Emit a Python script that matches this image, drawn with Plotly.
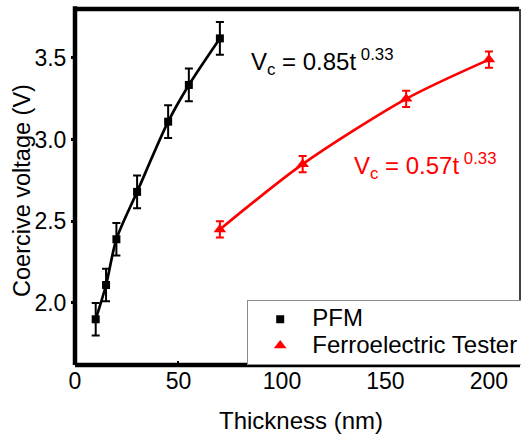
import plotly.graph_objects as go

# ---- data ----
pfm_thickness = [10, 15, 20, 30, 45, 55, 70]
pfm_vc = [1.90, 2.11, 2.39, 2.68, 3.11, 3.335, 3.62]
pfm_err = [0.10, 0.10, 0.10, 0.10, 0.10, 0.10, 0.10]

fet_thickness = [70, 110, 160, 200]
fet_vc = [2.45, 2.85, 3.25, 3.49]
fet_err = [0.05, 0.05, 0.05, 0.05]

x_ticks = [0, 50, 100, 150, 200]
y_ticks = [2.0, 2.5, 3.0, 3.5]

FONT = "Liberation Sans, Arial, sans-serif"
RED = "#ff0000"


def big(s):
    return "<span style='font-size:24px'>%s</span>" % s


fig = go.Figure()

# fitted curves (drawn as smooth lines through the data)
fig.add_trace(go.Scatter(x=pfm_thickness, y=pfm_vc, mode="lines",
                         line=dict(color="black", width=2.7, shape="spline", smoothing=0.8),
                         showlegend=False, hoverinfo="skip"))
fig.add_trace(go.Scatter(x=fet_thickness, y=fet_vc, mode="lines",
                         line=dict(color=RED, width=2.7, shape="spline", smoothing=0.8),
                         showlegend=False, hoverinfo="skip"))

# data points with error bars
fig.add_trace(go.Scatter(x=pfm_thickness, y=pfm_vc, mode="markers", name=big("PFM"),
                         marker=dict(symbol="square", size=8, color="black"),
                         error_y=dict(type="data", array=pfm_err, visible=True,
                                      color="black", thickness=2, width=4)))
fig.add_trace(go.Scatter(x=fet_thickness, y=fet_vc, mode="markers",
                         name=big("Ferroelectric Tester"),
                         marker=dict(symbol="triangle-up", size=11, color=RED),
                         error_y=dict(type="data", array=fet_err, visible=True,
                                      color=RED, thickness=2, width=4)))

# frame
frame = [
    dict(x0=0, x1=0, y0=0, y1=1.008, w=4.5),   # left
    dict(x0=0, x1=1, y0=0, y1=0, w=4.5),       # bottom
    dict(x0=0, x1=0.998, y0=1, y1=1, w=4.5),   # top
    dict(x0=1, x1=1, y0=0, y1=1, w=1.5),       # right
]
for f in frame:
    fig.add_shape(type="line", xref="paper", yref="paper",
                  x0=f["x0"], x1=f["x1"], y0=f["y0"], y1=f["y1"],
                  line=dict(color="black", width=f["w"]), layer="above")

fig.add_annotation(x=84, xref="x", y=3.475, yref="y",
                   xanchor="left", yanchor="middle", showarrow=False,
                   text="V<sub>c</sub> = 0.85t<sup> 0.33</sup>",
                   font=dict(family=FONT, size=24, color="black"))
fig.add_annotation(x=134, xref="x", y=2.84, yref="y",
                   xanchor="left", yanchor="middle", showarrow=False,
                   text="V<sub>c</sub> = 0.57t<sup> 0.33</sup>",
                   font=dict(family=FONT, size=24, color=RED))

# axis titles
fig.add_annotation(x=0.508, xref="paper", y=-0.157, yref="paper",
                   xanchor="center", yanchor="middle", showarrow=False,
                   text="Thickness (nm)", font=dict(family=FONT, size=24, color="black"))
fig.add_annotation(x=-0.119, xref="paper", y=0.489, yref="paper",
                   xanchor="center", yanchor="middle", showarrow=False, textangle=-90,
                   text="Coercive voltage (V)", font=dict(family=FONT, size=23.5, color="black"))

fig.update_layout(
    width=521, height=437,
    margin=dict(l=75, r=1, t=9, b=72, autoexpand=False),
    paper_bgcolor="white", plot_bgcolor="white",
    font=dict(family=FONT, size=23, color="black"),
    showlegend=True,
    legend=dict(x=0.387, y=0, xanchor="left", yanchor="bottom",
                bgcolor="white", bordercolor="#8c8c8c", borderwidth=1,
                font=dict(family=FONT, size=18, color="black"),
                itemwidth=54, tracegroupgap=0),
    xaxis=dict(range=[0, 215], tickvals=x_ticks, ticktext=[str(v) for v in x_ticks],
               showgrid=False, zeroline=False, showline=False, automargin=False,
               ticks="inside", ticklen=4, tickwidth=2, tickcolor="black",
               tickfont=dict(family=FONT, size=23)),
    yaxis=dict(range=[1.62, 3.80], tickvals=y_ticks, ticktext=["2.0", "2.5", "3.0", "3.5"],
               showgrid=False, zeroline=False, showline=False, automargin=False,
               ticks="outside", ticklen=3, tickwidth=3, tickcolor="black",
               tickfont=dict(family=FONT, size=23)),
)

fig.write_html("out.html", config={"displayModeBar": False},
               post_script="document.body.style.margin='0';")
